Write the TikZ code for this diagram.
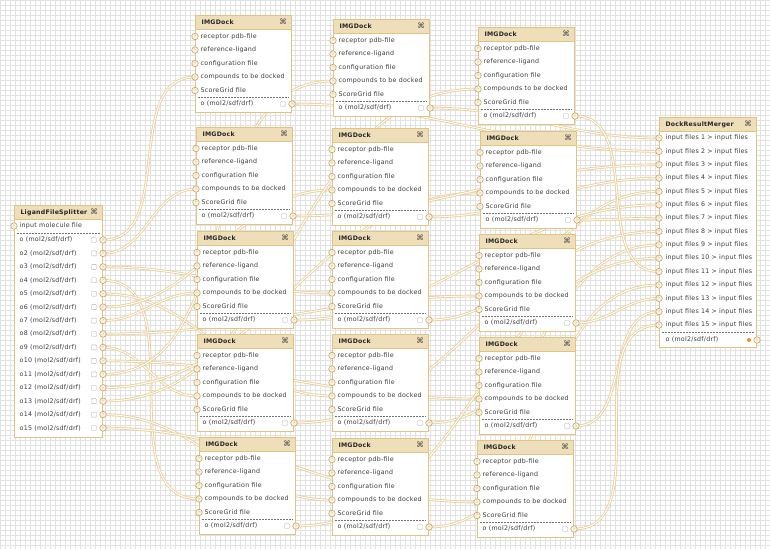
\documentclass[tikz,border=0pt]{standalone}
\usepackage{fontspec}
\setmainfont{DejaVu Sans}[LetterSpace=4]
\definecolor{boxcol}{RGB}{226,196,130}
\definecolor{headfill}{RGB}{238,222,186}
\definecolor{wirecol}{RGB}{234,210,158}
\definecolor{gridcol}{RGB}{226,226,226}
\definecolor{textcol}{RGB}{60,60,60}
\definecolor{portfill}{RGB}{252,242,220}
\definecolor{dotcol}{RGB}{240,140,30}
\pgfdeclarelayer{grid}
\pgfdeclarelayer{wires}
\pgfsetlayers{grid,wires,main}
\newcommand{\portmark}{›}
\newcommand{\imgdock}[3]{%
  \node[dockbox, minimum width=96pt, minimum height=97pt] (#1) at (#2,#3) {};
  \node[headbox, text width=84pt] (#1-head) at (#1.north west) {IMGDock};
  \node[closeicon] (#1-close) at ([xshift=-9pt,yshift=-7pt]#1.north east) {⌘};
  \foreach \ry/\rt/\rn in {21.5/receptor pdb-file/rec,35/reference-ligand/ref,48.5/configuration file/conf,62/compounds to be docked/comp,75.5/ScoreGrid file/score}{
    \node[port] (#1-\rn) at ([yshift=-\ry pt]#1.north west) {\portmark};
    \node[rowtext] (#1-\rn-text) at ([xshift=5.5pt,yshift=-\ry pt]#1.north west) {\rt};
  }
  \draw[sepline] ([xshift=3pt,yshift=-82pt]#1.north west) -- ([xshift=-3pt,yshift=-82pt]#1.north east);
  \node[rowtext] (#1-o-text) at ([xshift=5.5pt,yshift=-89pt]#1.north west) {o (mol2/sdf/drf)};
  \node[flag] (#1-sq) at ([xshift=-9pt,yshift=-89pt]#1.north east) {};
  \node[port] (#1-o) at ([yshift=-89pt]#1.north east) {\portmark};
}

\begin{document}
\begin{tikzpicture}[x=1pt,y=-1pt,
  dockbox/.style={rectangle, draw=boxcol, line width=1pt, fill=white, anchor=north west, inner sep=0pt},
  headbox/.style={rectangle, draw=boxcol, line width=1pt, fill=headfill, anchor=north west, minimum height=14pt, inner ysep=0pt, inner xsep=6pt, align=left, font=\bfseries\fontsize{6.2}{7}\selectfont, text=black!85},
  closeicon/.style={inner sep=0pt, font=\fontsize{7.5}{8}\selectfont, text=black!70},
  rowtext/.style={anchor=west, inner sep=0pt, font=\fontsize{6.3}{7}\selectfont, text=textcol},
  port/.style={circle, draw=boxcol!85!black, fill=portfill, line width=0.6pt, minimum size=6.5pt, inner sep=0pt, font=\fontsize{5}{5}\selectfont, text=boxcol!80!black},
  flag/.style={rectangle, draw=black!30, fill=white, line width=0.4pt, minimum size=5pt, inner sep=0pt, rounded corners=0.8pt},
  outdot/.style={circle, fill=dotcol, minimum size=4pt, inner sep=0pt},
  sepline/.style={draw=black!55, line width=0.5pt, dash pattern=on 2.2pt off 0.8pt},
  wire/.style={draw=wirecol, double=white, double distance=0.9pt, line width=0.9pt},
  gridline/.style={draw=gridcol, line width=0.5pt}]

  \useasboundingbox (0,0) rectangle (770,549);
  \begin{pgfonlayer}{grid}
    \fill[white] (0,0) rectangle (770,549);
    \foreach \gx in {0,5,...,770} \draw[gridline] (\gx,0) -- (\gx,549);
    \foreach \gy in {0,5,...,545} \draw[gridline] (0,\gy) -- (770,\gy);
  \end{pgfonlayer}

  % splitter
  \node[dockbox, minimum width=88pt, minimum height=232pt] (splitter) at (14,205) {};
  \node[headbox, text width=76pt] (splitter-head) at (splitter.north west) {LigandFileSplitter};
  \node[closeicon] (splitter-close) at ([xshift=-9pt,yshift=-7pt]splitter.north east) {⌘};
  \node[port] (splitter-in) at ([yshift=-21pt]splitter.north west) {\portmark};
  \node[rowtext] (splitter-in-text) at ([xshift=5.5pt,yshift=-21pt]splitter.north west) {input molecule file};
  \draw[sepline] ([xshift=3pt,yshift=-28pt]splitter.north west) -- ([xshift=-3pt,yshift=-28pt]splitter.north east);
  \foreach \k in {1,...,15}{
    \pgfmathsetmacro\ky{35+(\k-1)*13.43}
    \node[rowtext] (splitter-o\k-text) at ([xshift=5.5pt,yshift=-\ky pt]splitter.north west) {o\ifnum\k>1 \k\fi{} (mol2/sdf/drf)};
    \node[flag] (splitter-o\k-sq) at ([xshift=-9pt,yshift=-\ky pt]splitter.north east) {};
    \node[port] (splitter-o\k) at ([yshift=-\ky pt]splitter.north east) {\portmark};
  }

  % docking boxes
  \imgdock{dockA1}{195}{15}
  \imgdock{dockA2}{196}{127}
  \imgdock{dockA3}{197}{231}
  \imgdock{dockA4}{197}{334}
  \imgdock{dockA5}{199}{437}

  \imgdock{dockB1}{333}{19}
  \imgdock{dockB2}{332}{128}
  \imgdock{dockB3}{332}{231}
  \imgdock{dockB4}{332}{334}
  \imgdock{dockB5}{332}{438}

  \imgdock{dockC1}{478}{27}
  \imgdock{dockC2}{480}{131}
  \imgdock{dockC3}{479}{234}
  \imgdock{dockC4}{479}{337}
  \imgdock{dockC5}{477}{440}

  % merger
  \node[dockbox, minimum width=97pt, minimum height=230pt] (merger) at (659,117) {};
  \node[headbox, text width=85pt] (merger-head) at (merger.north west) {DockResultMerger};
  \node[closeicon] (merger-close) at ([xshift=-9pt,yshift=-7pt]merger.north east) {⌘};
  \foreach \k in {1,...,15}{
    \pgfmathsetmacro\ky{21+(\k-1)*13.36}
    \node[port] (merger-in\k) at ([yshift=-\ky pt]merger.north west) {\portmark};
    \node[rowtext] (merger-in\k-text) at ([xshift=6.5pt,yshift=-\ky pt]merger.north west) {input files \k{} > input files};
  }
  \draw[sepline] ([xshift=3pt,yshift=-215pt]merger.north west) -- ([xshift=-3pt,yshift=-215pt]merger.north east);
  \node[rowtext] (merger-o-text) at ([xshift=6.5pt,yshift=-223pt]merger.north west) {o (mol2/sdf/drf)};
  \node[outdot] (merger-dot) at ([xshift=-8pt,yshift=-223pt]merger.north east) {};
  \node[port] (merger-o) at ([yshift=-223pt]merger.north east) {\portmark};

  \begin{pgfonlayer}{wires}
  \draw[wire] (splitter-o1.center) to[out=0,in=180] (dockA1-comp.center);
  \draw[wire] (splitter-o2.center) to[out=0,in=180] (dockA2-comp.center);
  \draw[wire] (splitter-o3.center) to[out=0,in=180] (dockB3-comp.center);
  \draw[wire] (splitter-o4.center) to[out=0,in=180] (dockA5-comp.center);
  \draw[wire] (splitter-o5.center) to[out=0,in=180] (dockB4-comp.center);
  \draw[wire] (splitter-o6.center) to[out=0,in=180] (dockB2-comp.center);
  \draw[wire] (splitter-o7.center) to[out=0,in=180] (dockA3-comp.center);
  \draw[wire] (splitter-o8.center) to[out=0,in=180] (dockC3-comp.center);
  \draw[wire] (splitter-o9.center) to[out=0,in=180] (dockA4-comp.center);
  \draw[wire] (splitter-o10.center) to[out=0,in=180] (dockC4-comp.center);
  \draw[wire] (splitter-o11.center) to[out=0,in=180] (dockB1-comp.center);
  \draw[wire] (splitter-o12.center) to[out=0,in=180] (dockC2-comp.center);
  \draw[wire] (splitter-o13.center) to[out=0,in=180] (dockC1-comp.center);
  \draw[wire] (splitter-o14.center) to[out=0,in=180] (dockB5-comp.center);
  \draw[wire] (splitter-o15.center) to[out=0,in=180] (dockC5-comp.center);

  \draw[wire] (dockB1-o.center) to[out=0,in=180] (merger-in1.center);
  \draw[wire] (dockA1-o.center) to[out=0,in=180] (merger-in2.center);
  \draw[wire] (dockA2-o.center) to[out=0,in=180] (merger-in3.center);
  \draw[wire] (dockB2-o.center) to[out=0,in=180] (merger-in4.center);
  \draw[wire] (dockB3-o.center) to[out=0,in=180] (merger-in5.center);
  \draw[wire] (dockA3-o.center) to[out=0,in=180] (merger-in6.center);
  \draw[wire] (dockC2-o.center) to[out=0,in=180] (merger-in7.center);
  \draw[wire] (dockA4-o.center) to[out=0,in=180] (merger-in8.center);
  \draw[wire] (dockB4-o.center) to[out=0,in=180] (merger-in9.center);
  \draw[wire] (dockA5-o.center) to[out=0,in=180] (merger-in10.center);
  \draw[wire] (dockC1-o.center) to[out=0,in=180] (merger-in11.center);
  \draw[wire] (dockB5-o.center) to[out=0,in=180] (merger-in12.center);
  \draw[wire] (dockC3-o.center) to[out=0,in=180] (merger-in13.center);
  \draw[wire] (dockC4-o.center) to[out=0,in=180] (merger-in14.center);
  \draw[wire] (dockC5-o.center) to[out=0,in=180] (merger-in15.center);
  \end{pgfonlayer}
\end{tikzpicture}
\end{document}
